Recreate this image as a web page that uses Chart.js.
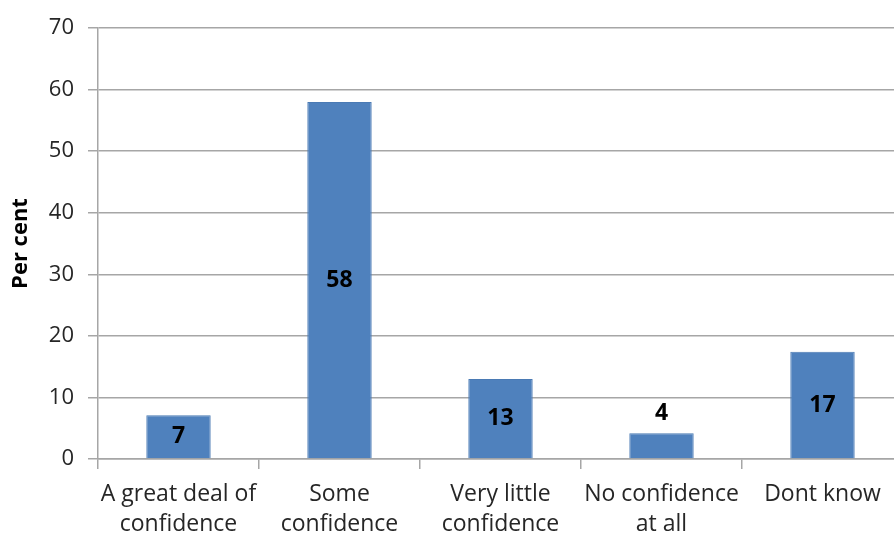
<!DOCTYPE html>
<html>
<head>
<meta charset="utf-8">
<script src="https://cdn.jsdelivr.net/npm/chart.js@4.4.0/dist/chart.umd.min.js"></script>
<style>
  html, body { margin: 0; padding: 0; background: #fff; overflow: hidden; }
  #wrap { width: 894px; height: 536px; overflow: hidden; }
</style>
</head>
<body>
<div id="wrap">
  <canvas id="barChart" width="904" height="536"></canvas>
</div>
<script>
const categories = [
  ["A great deal of", "confidence"],
  ["Some", "confidence"],
  ["Very little", "confidence"],
  ["No confidence", "at all"],
  ["Dont know"]
];
const values = [7.1, 58, 13, 4.2, 17.4];
const valueLabels = ["7", "58", "13", "4", "17"];
const yTicks = [0, 10, 20, 30, 40, 50, 60, 70];

const fontName = "'Open Sans', sans-serif";
const gridColor = "#a6a6a6";

// value labels: inside the bar, or above it if the bar is too short
const barLabels = {
  id: "barLabels",
  afterDatasetsDraw(chart) {
    let ctx = chart.ctx;
    let meta = chart.getDatasetMeta(0);
    ctx.save();
    ctx.font = "bold 23px " + fontName;
    ctx.fillStyle = "#000";
    ctx.textAlign = "center";
    ctx.textBaseline = "middle";
    meta.data.forEach((bar, i) => {
      let h = bar.base - bar.y;
      let y = h > 35 ? bar.y + h / 2 : bar.y - 20;
      ctx.fillText(valueLabels[i], bar.x, y);
    });
    ctx.restore();
  }
};

const bar = document.getElementById("barChart");

new Chart(bar, {
  type: "bar",
  data: {
    labels: categories,
    datasets: [{
      data: values,
      backgroundColor: "#4f81bd",
      borderColor: "#4a7ab4",
      borderWidth: 1,
      barPercentage: 0.4,
      categoryPercentage: 1
    }]
  },
  options: {
    responsive: false,
    maintainAspectRatio: false,
    animation: false,
    layout: { padding: { top: 28, left: 0, right: 1, bottom: 0 } },
    plugins: {
      legend: { display: false },
      tooltip: { enabled: false }
    },
    scales: {
      x: {
        grid: {
          offset: true,
          drawOnChartArea: false,
          color: gridColor,
          lineWidth: 1.5,
          tickLength: 10
        },
        border: { color: gridColor, width: 1.5 },
        ticks: {
          color: "#262626",
          font: { family: fontName, size: 23, lineHeight: 1.3 },
          maxRotation: 0,
          autoSkip: false,
          padding: 11
        },
        afterFit(scale) { scale.height = 77; }
      },
      y: {
        min: 0,
        max: 70,
        afterBuildTicks(scale) { scale.ticks = yTicks.map(v => ({ value: v })); },
        grid: {
          color: gridColor,
          lineWidth: 1.5,
          tickLength: 10
        },
        border: { color: gridColor, width: 1.5 },
        ticks: {
          color: "#262626",
          font: { family: fontName, size: 22 },
          padding: 14
        },
        title: {
          display: true,
          text: "Per cent",
          color: "#000",
          font: { family: fontName, size: 22, weight: "bold" },
          padding: { top: 8, bottom: 0 }
        },
        afterFit(scale) { scale.width = 98; }
      }
    }
  },
  plugins: [barLabels]
});
</script>
</body>
</html>
